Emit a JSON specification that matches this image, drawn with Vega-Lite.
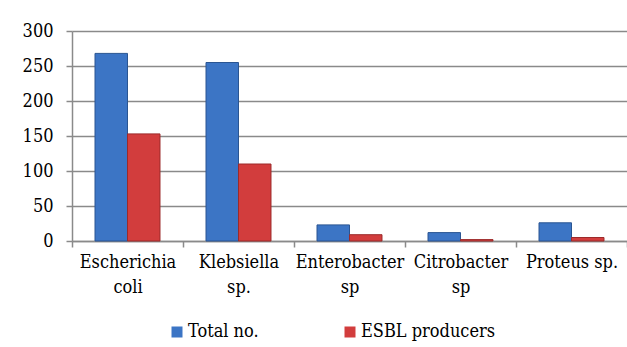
{
  "$schema": "https://vega.github.io/schema/vega-lite/v6.json",
  "width": 555,
  "height": 210,
  "autosize": {"type": "none"},
  "padding": {"left": 72, "top": 31, "right": 0, "bottom": 106},
  "background": "white",
  "data": {
    "values": [
      {"organism": "Escherichia coli", "series": "Total no.", "count": 268},
      {"organism": "Escherichia coli", "series": "ESBL producers", "count": 153},
      {"organism": "Klebsiella sp.", "series": "Total no.", "count": 255},
      {"organism": "Klebsiella sp.", "series": "ESBL producers", "count": 110},
      {"organism": "Enterobacter sp", "series": "Total no.", "count": 23},
      {"organism": "Enterobacter sp", "series": "ESBL producers", "count": 9},
      {"organism": "Citrobacter sp", "series": "Total no.", "count": 12},
      {"organism": "Citrobacter sp", "series": "ESBL producers", "count": 2},
      {"organism": "Proteus sp.", "series": "Total no.", "count": 26},
      {"organism": "Proteus sp.", "series": "ESBL producers", "count": 5}
    ]
  },
  "mark": {"type": "bar", "strokeWidth": 1},
  "encoding": {
    "x": {
      "field": "organism",
      "type": "nominal",
      "sort": null,
      "scale": {"paddingInner": 0, "paddingOuter": 0},
      "axis": {
        "title": null,
        "labelAngle": 0,
        "tickBand": "extent",
        "labelExpr": "isValid(datum.value) ? (datum.value == 'Proteus sp.' ? datum.value : split(datum.value, ' ')) : ''",
        "labelLineHeight": 25,
        "labelFontSize": 18,
        "labelFont": "DejaVu Serif Condensed",
        "labelColor": "black",
        "labelLimit": 0,
        "labelPadding": 6,
        "domainColor": "#8a8a8a",
        "domainWidth": 1.5,
        "tickColor": "#8a8a8a",
        "tickWidth": 1.5,
        "tickSize": 6,
        "grid": false
      }
    },
    "xOffset": {"field": "series", "sort": null, "scale": {"paddingInner": 0, "paddingOuter": 0.708}},
    "y": {
      "field": "count",
      "type": "quantitative",
      "scale": {"domain": [0, 300], "nice": false},
      "axis": {
        "title": null,
        "values": [0, 50, 100, 150, 200, 250, 300],
        "labelFontSize": 18,
        "labelFont": "DejaVu Serif Condensed",
        "labelColor": "black",
        "labelPadding": 13,
        "domainColor": "#8a8a8a",
        "domainWidth": 1.5,
        "tickColor": "#8a8a8a",
        "tickWidth": 1.5,
        "tickSize": 6,
        "gridColor": "#8a8a8a",
        "gridWidth": 1.5
      }
    },
    "color": {
      "field": "series",
      "sort": null,
      "scale": {"range": ["#3c75c5", "#d23d3d"]},
      "legend": {
        "title": null,
        "orient": "none",
        "legendX": 96,
        "legendY": 292,
        "direction": "horizontal",
        "columns": 2,
        "columnPadding": 82,
        "symbolType": "square",
        "symbolSize": 121,
        "symbolStrokeWidth": 0,
        "labelFont": "DejaVu Serif Condensed",
        "labelFontSize": 18,
        "labelColor": "black",
        "labelOffset": 2
      }
    },
    "stroke": {
      "field": "series",
      "sort": null,
      "scale": {"range": ["#2a5592", "#9c2a2a"]},
      "legend": null
    }
  },
  "config": {"view": {"stroke": null}}
}
